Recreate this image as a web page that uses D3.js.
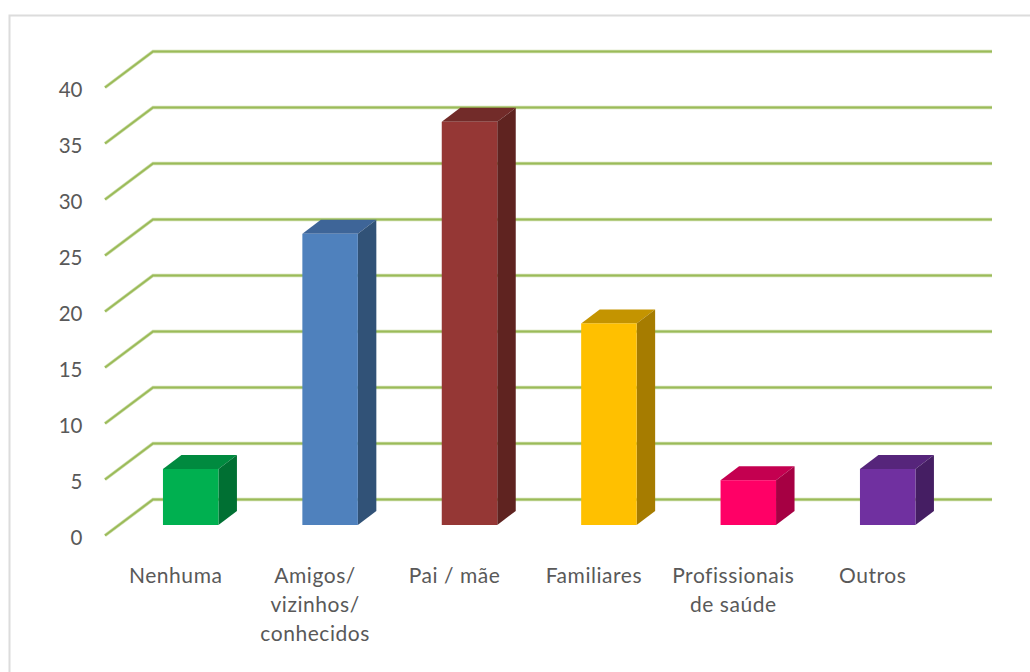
<!DOCTYPE html>
<html><head><meta charset="utf-8">
<script src="https://cdn.jsdelivr.net/npm/d3@7"></script>
<style>html,body{margin:0;padding:0;background:#fff}svg{display:block}
text{font-family:Lato,sans-serif;font-size:20.5px;fill:#595959}
text.x{font-size:21px;letter-spacing:0.55px}</style></head>
<body><div id="c"></div>
<script>
const categories=["Nenhuma","Amigos/|vizinhos/|conhecidos","Pai / mãe","Familiares","Profissionais|de saúde","Outros"];
const values=[5,26,36,18,4,5];
const front=["#00b050","#4f81bd","#953735","#ffc000","#ff0066","#7030a0"];
const top_=["#008a3f","#3e6598","#722b29","#c49400","#c40050","#56257b"];
const side=["#007033","#315277","#5f2320","#a67c00","#a60043","#451e63"];
const ticks=[0,5,10,15,20,25,30,35,40];
const W=1030,H=672;
const svg=d3.select("#c").append("svg").attr("width",W).attr("height",H);
svg.append("path").attr("d",`M9.5,${H}V15.5H${W}`).attr("fill","none").attr("stroke","#dcdcdc").attr("stroke-width",2);
const yFront=d3.scaleLinear().domain([0,40]).range([535.5,87.5]);
const yBack=d3.scaleLinear().domain([0,40]).range([499.5,51.5]);
const yBar=d3.scaleLinear().domain([0,40]).range([525,77]);
const xBar=d3.scaleBand().domain(d3.range(6)).range([121,957.4]).paddingInner(0.602).paddingOuter(0.301);
const xLab=d3.scaleBand().domain(d3.range(6)).range([106,942.4]);
const g=svg.append("g");
g.selectAll("path.halo").data(ticks).join("path").attr("class","halo")
 .attr("d",d=>`M105,${yFront(d)}L153,${yBack(d)}H992`).attr("fill","none").attr("stroke","#cfdfae").attr("stroke-width",3.4);
g.selectAll("path.grid").data(ticks).join("path").attr("class","grid")
 .attr("d",d=>`M105,${yFront(d)}L153,${yBack(d)}H992`).attr("fill","none").attr("stroke","#9bbb59").attr("stroke-width",2);
const dx=18.5,dy=14;
const b=g.selectAll("g.bar").data(values).join("g").attr("class","bar");
b.append("path").attr("fill",(d,i)=>top_[i]).attr("d",(d,i)=>{const x=xBar(i),w=xBar.bandwidth(),y=yBar(d);return `M${x},${y}l${dx},${-dy}h${w}l${-dx},${dy}Z`});
b.append("path").attr("fill",(d,i)=>side[i]).attr("d",(d,i)=>{const x=xBar(i)+xBar.bandwidth(),y=yBar(d);return `M${x},${y}l${dx},${-dy}V${yBar(0)-dy}l${-dx},${dy}Z`});
b.append("rect").attr("fill",(d,i)=>front[i]).attr("x",(d,i)=>xBar(i)).attr("width",xBar.bandwidth()).attr("y",d=>yBar(d)).attr("height",d=>yBar(0)-yBar(d));
g.selectAll("text.y").data(ticks).join("text").attr("class","y").attr("x",82.5).attr("y",d=>yFront(d)+1).attr("text-anchor","end").attr("dominant-baseline","central").text(d=>d);
const lab=g.selectAll("text.x").data(categories).join("text").attr("class","x").attr("text-anchor","middle").attr("y",583);
lab.selectAll("tspan").data((d,i)=>d.split("|").map(t=>({t,i}))).join("tspan").attr("x",d=>xLab(d.i)+xLab.bandwidth()/2).attr("dy",(d,j)=>j?29:0).text(d=>d.t);
</script></body></html>
